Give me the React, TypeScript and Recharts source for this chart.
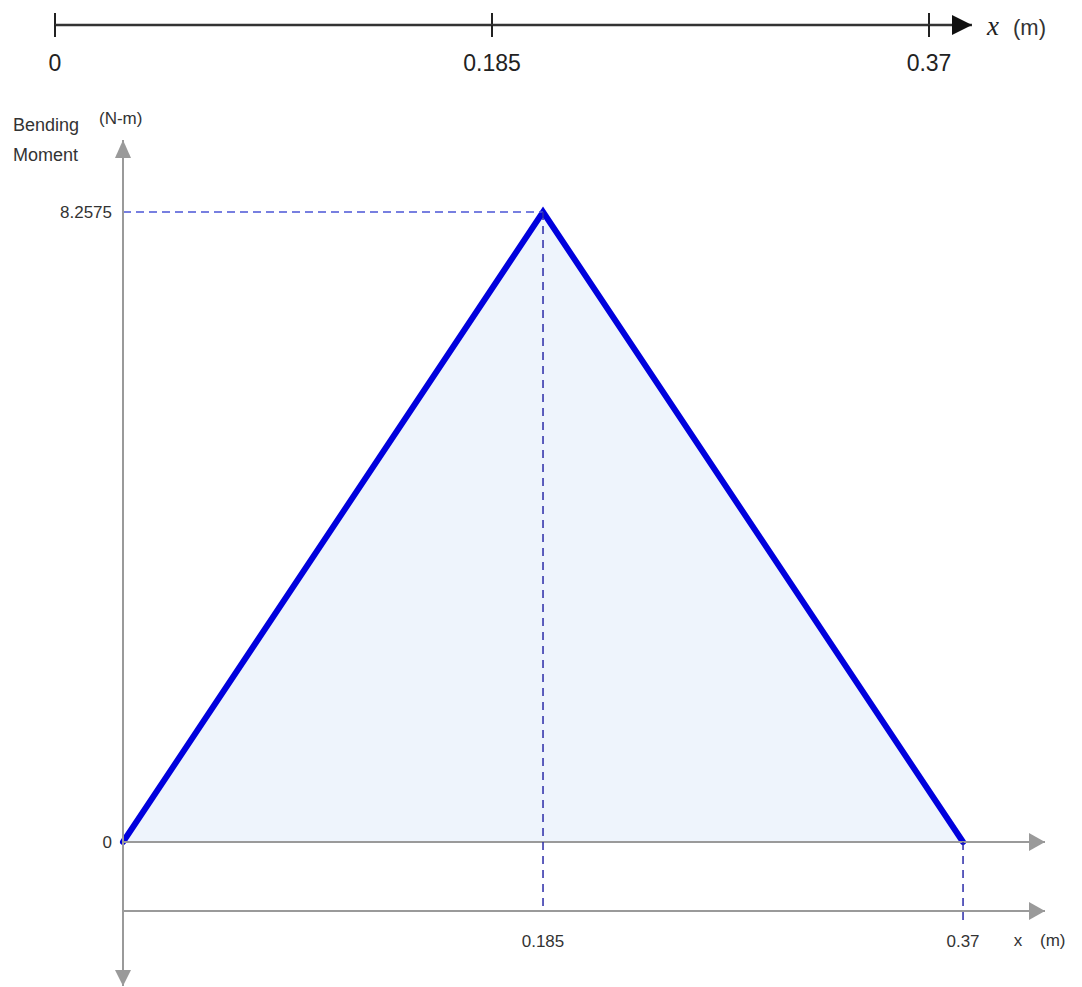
import React from 'react';
import {
  ComposedChart,
  LineChart,
  Line,
  Area,
  XAxis,
  YAxis,
  ReferenceLine,
  ReferenceDot,
} from 'recharts';

// beam positions (m) and bending moment (N-m)
const positions = [0, 0.185, 0.37];
const moments = [0, 8.2575, 0];

// tick labels
const beamTicks = [0, 0.185, 0.37];
const momentTicks = [0, 8.2575];
const baseTicks = [0.185, 0.37];

// axis extents (past the data, where the arrows sit)
const beamAxisEnd = 0.3882;
const xAxisEnd = 0.4061;
const yTop = 9.201;
const yBase = -0.9044;
const yBottom = -1.887;

const data = positions.map((x, i) => ({ x, m: moments[i] }));
const beamData = positions.map((x) => ({ x, y: 0 }));

const FONT = '"Liberation Sans", Arial, sans-serif';
const AXIS_GRAY = '#9a9a9a';
const PEAK = Math.max(...moments);
const PEAK_X = positions[moments.indexOf(PEAK)];
const END_X = positions[positions.length - 1];

const BeamArrow = (props: any) => {
  const { cx, cy } = props;
  return (
    <g>
      <path d={`M${cx},${cy} L${cx - 20},${cy - 10} L${cx - 20},${cy + 10} Z`} fill="#111" />
      <text x={cx + 15} y={cy + 10} fontFamily='"Liberation Serif", serif' fontStyle="italic" fontSize={27} fill="#222">
        x
      </text>
      <text x={cx + 41} y={cy + 10} fontFamily={FONT} fontSize={22} fill="#333">
        (m)
      </text>
    </g>
  );
};

const UpArrow = (props: any) => {
  const { cx, cy } = props;
  return (
    <g>
      <path d={`M${cx},${cy} L${cx - 8},${cy + 18} L${cx + 8},${cy + 18} Z`} fill={AXIS_GRAY} />
      <text x={cx - 110} y={cy - 9} fontFamily={FONT} fontSize={18} fill="#333">
        Bending
      </text>
      <text x={cx - 110} y={cy + 21} fontFamily={FONT} fontSize={18} fill="#333">
        Moment
      </text>
      <text x={cx - 24} y={cy - 16} fontFamily={FONT} fontSize={17} fill="#333">
        (N-m)
      </text>
    </g>
  );
};

const DownArrow = (props: any) => {
  const { cx, cy } = props;
  return <path d={`M${cx},${cy} L${cx - 8},${cy - 16} L${cx + 8},${cy - 16} Z`} fill={AXIS_GRAY} />;
};

const RightArrow = (props: any) => {
  const { cx, cy } = props;
  return <path d={`M${cx},${cy} L${cx - 16},${cy - 9} L${cx - 16},${cy + 9} Z`} fill={AXIS_GRAY} />;
};

const BaseArrow = (props: any) => {
  const { cx, cy } = props;
  return (
    <g>
      <path d={`M${cx},${cy} L${cx - 16},${cy - 9} L${cx - 16},${cy + 9} Z`} fill={AXIS_GRAY} />
      <text x={cx - 27} y={cy + 35} textAnchor="middle" fontFamily={FONT} fontSize={17} fill="#333">
        x
      </text>
      <text x={cx - 5} y={cy + 35} fontFamily={FONT} fontSize={17} fill="#333">
        (m)
      </text>
    </g>
  );
};

export default function App() {
  return (
    <div style={{ position: 'absolute', left: 0, top: 0, width: 1082, height: 987, background: '#fff' }}>
      {/* beam ruler */}
      <LineChart width={1082} height={90} data={beamData} margin={{ top: 13, right: 110, left: 55, bottom: 0 }}>
        <XAxis
          dataKey="x"
          type="number"
          domain={[0, beamAxisEnd]}
          ticks={beamTicks}
          height={65}
          tickSize={12}
          tickMargin={18}
          axisLine={{ stroke: '#333', strokeWidth: 2.5 }}
          tickLine={{ stroke: '#222', strokeWidth: 2 }}
          tick={{ fontSize: 23, fontFamily: FONT, fill: '#222' }}
          interval={0}
        />
        <YAxis hide domain={[0, 1]} />
        {beamTicks.map((t) => (
          <ReferenceLine key={t} x={t} stroke="#222" strokeWidth={2} />
        ))}
        <Line dataKey="y" stroke="none" dot={false} isAnimationActive={false} />
        <ReferenceDot x={beamAxisEnd} y={0} ifOverflow="visible" shape={BeamArrow} />
      </LineChart>

      {/* bending moment diagram */}
      <ComposedChart width={1082} height={897} data={data} margin={{ top: 50, right: 37, left: 0, bottom: 0 }}>
        <XAxis
          dataKey="x"
          type="number"
          domain={[0, xAxisEnd]}
          ticks={baseTicks}
          height={76}
          tickLine={false}
          tickSize={6}
          tickMargin={18}
          axisLine={{ stroke: AXIS_GRAY, strokeWidth: 2 }}
          tick={{ fontSize: 17, fontFamily: FONT, fill: '#333' }}
          interval={0}
        />
        <YAxis
          type="number"
          domain={[yBase, yTop]}
          ticks={momentTicks}
          width={123}
          tickLine={false}
          tickSize={6}
          tickMargin={5}
          axisLine={{ stroke: AXIS_GRAY, strokeWidth: 2 }}
          tick={{ fontSize: 17, fontFamily: FONT, fill: '#333' }}
          interval={0}
          allowDataOverflow
        />
        <ReferenceLine
          segment={[{ x: 0, y: yBase }, { x: 0, y: yBottom }]}
          ifOverflow="visible"
          stroke={AXIS_GRAY}
          strokeWidth={2}
        />
        <Area
          type="linear"
          dataKey="m"
          baseValue={0}
          stroke="#0000dd"
          strokeWidth={6}
          strokeLinecap="round"
          fill="#eef4fc"
          fillOpacity={1}
          dot={false}
          activeDot={false}
          isAnimationActive={false}
        />
        <ReferenceLine y={0} stroke={AXIS_GRAY} strokeWidth={2} />
        <ReferenceLine
          segment={[{ x: 0, y: PEAK }, { x: PEAK_X, y: PEAK }]}
          stroke="#4b55d6"
          strokeWidth={1.5}
          strokeDasharray="8 5"
        />
        <ReferenceLine
          segment={[{ x: PEAK_X, y: PEAK }, { x: PEAK_X, y: yBase }]}
          stroke="#2b2ba8"
          strokeWidth={1.5}
          strokeDasharray="8 6"
        />
        <ReferenceLine
          segment={[{ x: END_X, y: 0 }, { x: END_X, y: yBase - 0.12 }]}
          ifOverflow="visible"
          stroke="#2b2ba8"
          strokeWidth={1.5}
          strokeDasharray="8 6"
        />
        <ReferenceDot x={0} y={yTop} ifOverflow="visible" shape={UpArrow} />
        <ReferenceDot x={0} y={yBottom} ifOverflow="visible" shape={DownArrow} />
        <ReferenceDot x={xAxisEnd} y={0} ifOverflow="visible" shape={RightArrow} />
        <ReferenceDot x={xAxisEnd} y={yBase} ifOverflow="visible" shape={BaseArrow} />
      </ComposedChart>
    </div>
  );
}
